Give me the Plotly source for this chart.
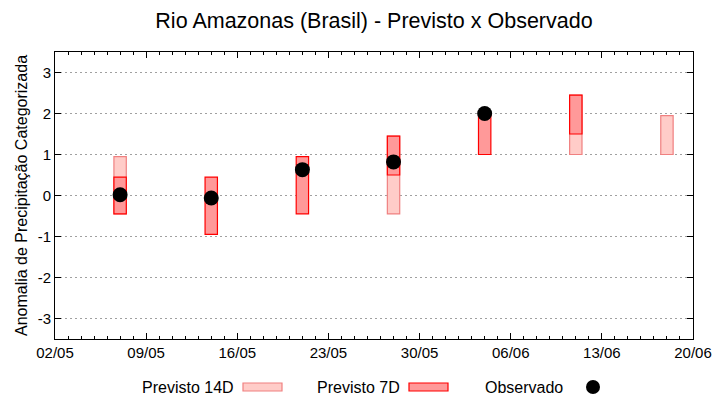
import plotly.graph_objects as go

# ---- data ----
dates = ["2023-05-07", "2023-05-14", "2023-05-21", "2023-05-28",
         "2023-06-04", "2023-06-11", "2023-06-18"]
p14_low = [-0.45, None, None, -0.45, None, 1.0, 1.0]
p14_high = [0.95, None, None, 1.45, None, 2.45, 1.95]
p7_low = [-0.45, -0.95, -0.45, 0.5, 1.0, 1.5, None]
p7_high = [0.45, 0.45, 0.95, 1.45, 1.95, 2.45, None]
obs = [0.02, -0.06, 0.63, 0.82, 2.0, None, None]

y_ticks = [-3, -2, -1, 0, 1, 2, 3]
y_tick_labels = ["-3", "-2", "-1", "0", "1", "2", "3"]

DAY = 86400000
FONT = "Liberation Sans, Arial, sans-serif"

def heights(lo, hi):
    return [None if (a is None or b is None) else b - a for a, b in zip(lo, hi)]

fig = go.Figure()

fig.add_trace(go.Bar(
    x=dates, base=p14_low, y=heights(p14_low, p14_high),
    width=0.95 * DAY,
    marker=dict(color="#FFCCC8", line=dict(color="#F08080", width=1.2)),
    name="Previsto 14D", showlegend=False,
))
fig.add_trace(go.Bar(
    x=dates, base=p7_low, y=heights(p7_low, p7_high),
    width=0.95 * DAY,
    marker=dict(color="#FF9999", line=dict(color="#FF0000", width=1.2)),
    name="Previsto 7D", showlegend=False,
))
fig.add_trace(go.Scatter(
    x=dates, y=obs, mode="markers",
    marker=dict(color="black", size=15, symbol="circle"),
    name="Observado", showlegend=False,
))

# page body has an 8px margin; figure is sized so the plot area lands
# at window pixels (55..693, 52..339)
OFF = 8
W, H = 720 - OFF, 400 - OFF
PLOT_L, PLOT_R, PLOT_T, PLOT_B = 55, 693, 52, 339

fig.update_layout(
    width=W, height=H,
    margin=dict(l=PLOT_L - OFF, r=720 - PLOT_R, t=PLOT_T - OFF, b=400 - PLOT_B,
                autoexpand=False),
    paper_bgcolor="white", plot_bgcolor="white",
    barmode="overlay",
    font=dict(family=FONT, size=15, color="black"),
    title=dict(text="Rio Amazonas (Brasil) - Previsto x Observado",
               x=(374 - OFF) / W, xanchor="center", y=1 - (20 - OFF) / H, yanchor="middle",
               font=dict(size=21.5, family=FONT, color="black")),
)

fig.update_xaxes(
    type="date", range=["2023-05-02", "2023-06-20"],
    tick0="2023-05-02", dtick=7 * DAY, tickformat="%d/%m",
    ticks="inside", ticklen=6, tickcolor="black",
    showline=True, linecolor="black", linewidth=1, mirror="ticks",
    showgrid=False, zeroline=False, automargin=False,
    minor=dict(dtick=DAY, tick0="2023-05-02", ticks="inside", ticklen=3,
               tickcolor="black", showgrid=False),
    tickfont=dict(size=15, family=FONT),
)
fig.update_yaxes(
    range=[-3.5, 3.5], tickvals=y_ticks, ticktext=y_tick_labels,
    ticks="inside", ticklen=6, tickcolor="black",
    showline=True, linecolor="black", linewidth=1, mirror="ticks",
    showgrid=True, gridcolor="#a0a0a0", gridwidth=1, griddash="2px,3px",
    zeroline=False, automargin=False,
    tickfont=dict(size=15, family=FONT),
    title=dict(text="Anomalia de Precipitação Categorizada",
               font=dict(size=16, family=FONT), standoff=6),
)

# ---- legend (gnuplot style: text then sample), positioned in window pixels ----
LEG_Y = 387

def px(x):
    return (x - PLOT_L) / (PLOT_R - PLOT_L)

def py(y):
    return (PLOT_B - y) / (PLOT_B - PLOT_T)

legend_items = [
    ("Previsto 14D", 236, "rect", 243, 282, "#FFCCC8", "#F08080"),
    ("Previsto 7D", 402, "rect", 409, 448, "#FF9999", "#FF0000"),
    ("Observado", 565, "circle", 586, 600, "black", "black"),
]
for text, tx, kind, x0, x1, fill, edge in legend_items:
    fig.add_annotation(text=text, xref="paper", yref="paper",
                       x=px(tx), y=py(LEG_Y), xanchor="right", yanchor="middle",
                       showarrow=False, font=dict(size=16, family=FONT))
    half = 4 if kind == "rect" else 7
    fig.add_shape(type=kind, xref="paper", yref="paper",
                  x0=px(x0), x1=px(x1), y0=py(LEG_Y + half), y1=py(LEG_Y - half),
                  fillcolor=fill,
                  line=dict(color=edge, width=1.2 if kind == "rect" else 0))

fig.write_html("out.html")
